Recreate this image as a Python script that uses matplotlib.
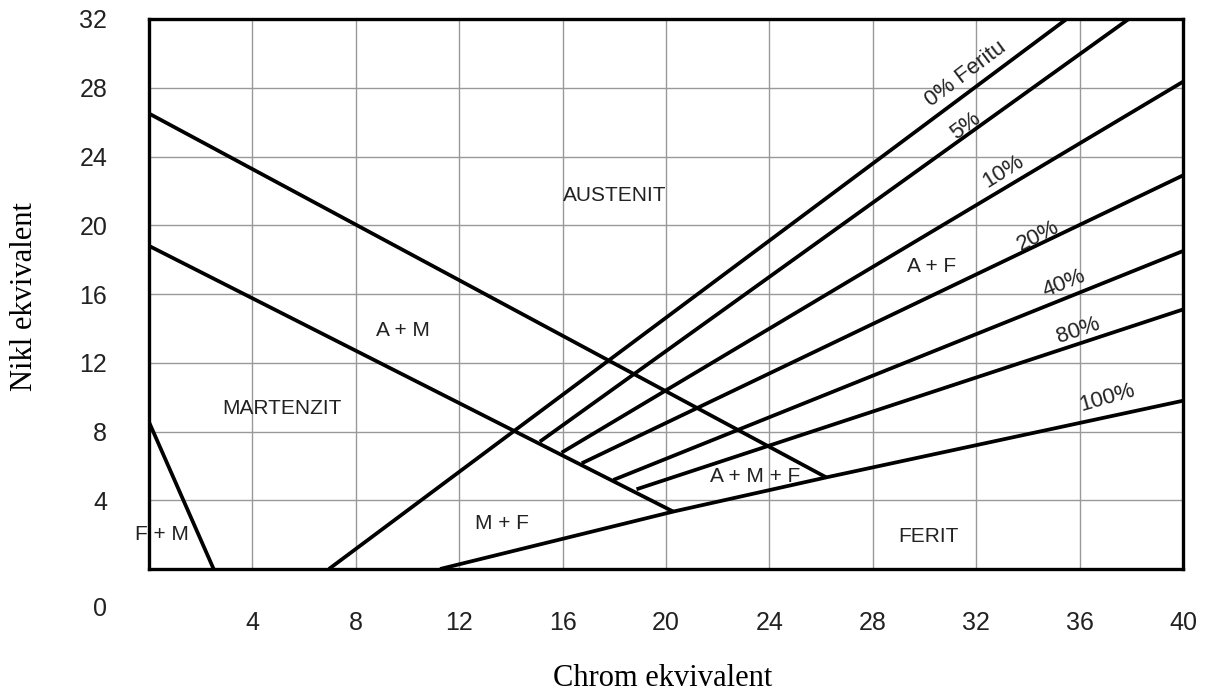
import matplotlib
matplotlib.use("Agg")
import matplotlib.pyplot as plt

# Schaeffler diagram: chromium equivalent (x) vs nickel equivalent (y)
x_ticks = [4, 8, 12, 16, 20, 24, 28, 32, 36, 40]
y_ticks = [4, 8, 12, 16, 20, 24, 28, 32]

# phase boundaries (x, y points)
austenite_line = ([0, 26.2], [26.5, 5.33])
martensite_line = ([0, 20.28], [18.8, 3.34])
fm_line = ([0, 2.5], [8.55, 0])
ferrite_100_x = [11.26, 20.28, 26.2, 40]
ferrite_100_y = [0, 3.34, 5.33, 9.79]

# iso-ferrite lines, from the martensite boundary out to the frame
ferrite_pct = ["0% Feritu", "5%", "10%", "20%", "40%", "80%"]
ferrite_x0 = [6.96, 15.12, 15.96, 16.74, 17.96, 18.86]
ferrite_y0 = [0, 7.41, 6.77, 6.15, 5.18, 4.64]
ferrite_x1 = [35.5, 37.9, 40, 40, 40, 40]
ferrite_y1 = [32, 32, 28.35, 22.9, 18.5, 15.1]

# line labels: position and angle
pct_labels = ["0% Feritu", "5%", "10%", "20%", "40%", "80%", "100%"]
pct_lx = [31.6, 31.6, 33.05, 34.4, 35.4, 35.95, 37.05]
pct_ly = [28.8, 25.8, 23.1, 19.4, 16.6, 13.9, 9.93]
pct_rot = [37, 37, 32, 27, 22, 19, 16]

# region names
regions = ["AUSTENIT", "A + M", "MARTENZIT", "F + M", "M + F", "FERIT", "A + M + F", "A + F"]
region_x = [18.0, 9.83, 5.13, 0.49, 13.64, 30.15, 23.44, 30.27]
region_y = [21.75, 13.9, 9.35, 1.98, 2.62, 1.88, 5.37, 17.6]

fig = plt.figure(figsize=(12.06, 6.93), dpi=100)
ax = fig.add_axes([149 / 1206, 1 - 569 / 693, 1034 / 1206, 550 / 693])

lw = 2.7
ax.plot(*austenite_line, color="black", lw=lw, solid_capstyle="butt")
ax.plot(*martensite_line, color="black", lw=lw, solid_capstyle="butt")
ax.plot(*fm_line, color="black", lw=lw, solid_capstyle="butt")
ax.plot(ferrite_100_x, ferrite_100_y, color="black", lw=lw, solid_capstyle="butt")
for i in range(len(ferrite_pct)):
    ax.plot([ferrite_x0[i], ferrite_x1[i]], [ferrite_y0[i], ferrite_y1[i]],
            color="black", lw=lw, solid_capstyle="butt")

for i in range(len(pct_labels)):
    ax.text(pct_lx[i], pct_ly[i], pct_labels[i], rotation=pct_rot[i],
            ha="center", va="center", fontsize=16, color="#222222",
            family="Liberation Sans", rotation_mode="anchor")

for i in range(len(regions)):
    t = ax.text(region_x[i], region_y[i], regions[i], ha="center", va="center",
                fontsize=15, color="#222222", family="Liberation Sans")
    t.set_clip_on(False)

ax.set_xlim(0, 40)
ax.set_ylim(0, 32)
ax.set_xticks(x_ticks)
ax.set_yticks(y_ticks)
ax.grid(True, color="#999999", lw=1.0)
ax.set_axisbelow(True)
ax.tick_params(length=0, pad=30, labelsize=18)
for lab in ax.get_xticklabels() + ax.get_yticklabels():
    lab.set_family("Liberation Sans")
    lab.set_color("#222222")
for s in ax.spines.values():
    s.set_linewidth(2.4)
    s.set_zorder(5)

# origin label sits on its own, below-left of the frame
ax.text(-0.047, -0.073, "0", transform=ax.transAxes, ha="center", va="center",
        fontsize=18, color="#222222", family="Liberation Sans")

fig.text(663 / 1206, 1 - 678 / 693, "Chrom ekvivalent", ha="center", va="center",
         fontsize=22, family="Liberation Serif")
fig.text(25 / 1206, 1 - 297 / 693, "Nikl ekvivalent", ha="center", va="center",
         rotation=90, fontsize=22, family="Liberation Serif")

fig.savefig("out.png", dpi=100)
